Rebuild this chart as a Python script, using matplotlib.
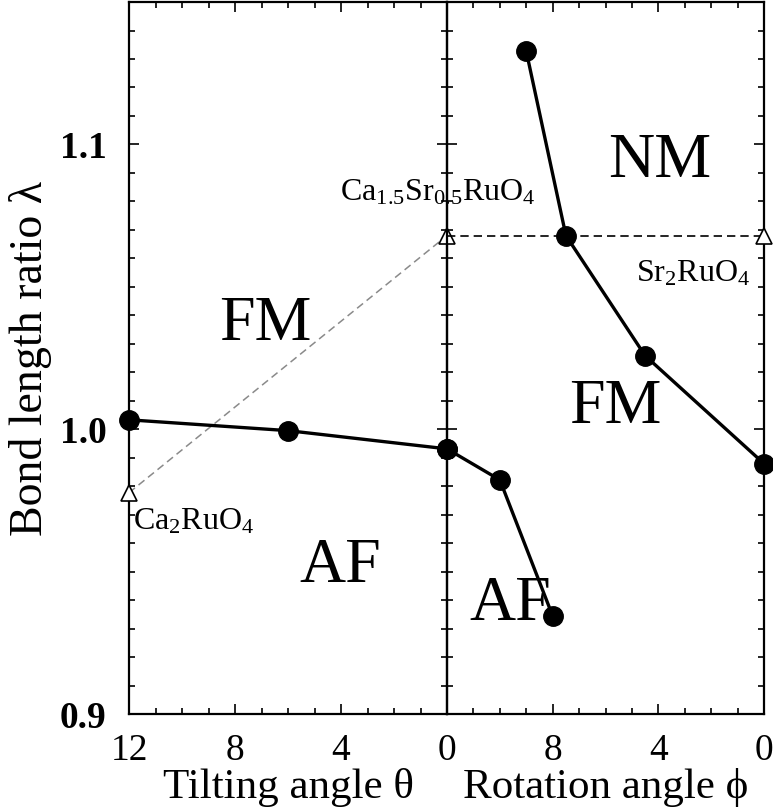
import matplotlib.pyplot as plt
from matplotlib.ticker import MultipleLocator

plt.rcParams["font.family"] = ["Liberation Serif", "DejaVu Serif"]
plt.rcParams["mathtext.fontset"] = "custom"
plt.rcParams["mathtext.rm"] = "Liberation Serif"
plt.rcParams["mathtext.it"] = "Liberation Serif"

# AF/FM boundary against tilting angle
theta_af = [12, 6, 0]
lam_theta_af = [1.0033, 0.9995, 0.9931]

# AF/FM boundary against rotation angle (starts at theta=0 point)
phi_af = [12, 10, 8]
lam_phi_af = [0.9931, 0.9822, 0.9344]

# FM/NM boundary against rotation angle
phi_nm = [9, 7.5, 4.5, 0]
lam_phi_nm = [1.1327, 1.068, 1.0258, 0.9879]

# compounds (open triangles)
lam_ca2 = 0.9777
lam_sr2 = 1.068
lam_ca15 = 1.068

fig = plt.figure(figsize=(7.73, 8.11), dpi=100)
ax1 = fig.add_axes([0.1669, 0.1196, 0.5783 - 0.1669, 0.9975 - 0.1196])
ax2 = fig.add_axes([0.5783, 0.1196, 0.9884 - 0.5783, 0.9975 - 0.1196])
ax2.patch.set_alpha(0)

for ax in (ax1, ax2):
    ax.set_xlim(12, 0)
    ax.set_ylim(0.9, 1.15)
    ax.xaxis.set_major_locator(MultipleLocator(4))
    ax.xaxis.set_minor_locator(MultipleLocator(1))
    ax.yaxis.set_major_locator(MultipleLocator(0.1))
    ax.yaxis.set_minor_locator(MultipleLocator(0.01))
    ax.tick_params(which="both", direction="in", top=True, right=True,
                   width=1.2)
    ax.tick_params(which="major", length=7)
    ax.tick_params(which="minor", length=4)
    for s in ax.spines.values():
        s.set_linewidth(1.6)

ax1.set_yticks([0.9, 1.0, 1.1])
ax1.set_yticklabels(["0.9", "1.0", "1.1"], fontsize=27, fontweight="bold")
ax1.tick_params(axis="y", pad=16)
ax1.set_xticks([12, 8, 4, 0])
ax1.set_xticklabels(["12", "8", "4", "0"], fontsize=27)
ax2.set_xticks([12, 8, 4, 0])
ax2.set_xticklabels(["", "8", "4", "0"], fontsize=27)
ax2.set_yticklabels([])
ax1.tick_params(axis="x", pad=14)
ax2.tick_params(axis="x", pad=14)

ax1.set_xlabel("Tilting angle θ", fontsize=31, labelpad=0)
ax2.set_xlabel("Rotation angle ϕ", fontsize=31, labelpad=0)
ax1.set_ylabel("Bond length ratio λ", fontsize=33, labelpad=6)

# phase boundaries
ax1.plot(theta_af, lam_theta_af, "-o", color="black", lw=2.4, ms=14,
         clip_on=False, zorder=5)
ax2.plot(phi_af, lam_phi_af, "-o", color="black", lw=2.4, ms=14,
         clip_on=False, zorder=5)
ax2.plot(phi_nm, lam_phi_nm, "-o", color="black", lw=2.4, ms=14,
         clip_on=False, zorder=5)

# Ca2RuO4 -> Ca1.5Sr0.5RuO4 -> Sr2RuO4 path
ax1.plot([12, 0], [lam_ca2, lam_ca15], "--", color="#8a8a8a", lw=1.1,
         dashes=(5, 3))
ax2.plot([12, 0], [lam_ca15, lam_sr2], "--", color="black", lw=1.2,
         dashes=(5, 3))
ax1.plot([12, 0], [lam_ca2, lam_ca15], "^", ms=11, mfc="white", mec="black",
         mew=1.2, clip_on=False, zorder=6)
ax2.plot([0], [lam_sr2], "^", ms=11, mfc="white", mec="black", mew=1.2,
         clip_on=False, zorder=6)

# phase labels
ax1.text(6.87, 1.0367, "FM", fontsize=46, ha="center", va="center")
ax1.text(4.04, 0.9517, "AF", fontsize=46, ha="center", va="center")
ax2.text(9.6, 0.9383, "AF", fontsize=46, ha="center", va="center")
ax2.text(5.64, 1.0076, "FM", fontsize=46, ha="center", va="center")
ax2.text(3.94, 1.094, "NM", fontsize=46, ha="center", va="center")

# compound labels
ax1.text(11.85, 0.9675, "Ca$_2$RuO$_4$", fontsize=23, ha="left", va="center")
ax1.text(4.04, 1.083, "Ca$_{1.5}$Sr$_{0.5}$RuO$_4$", fontsize=23,
         ha="left", va="center", zorder=7)
ax2.text(4.85, 1.0545, "Sr$_2$RuO$_4$", fontsize=23, ha="left", va="center")

fig.savefig("out.png", dpi=100)
